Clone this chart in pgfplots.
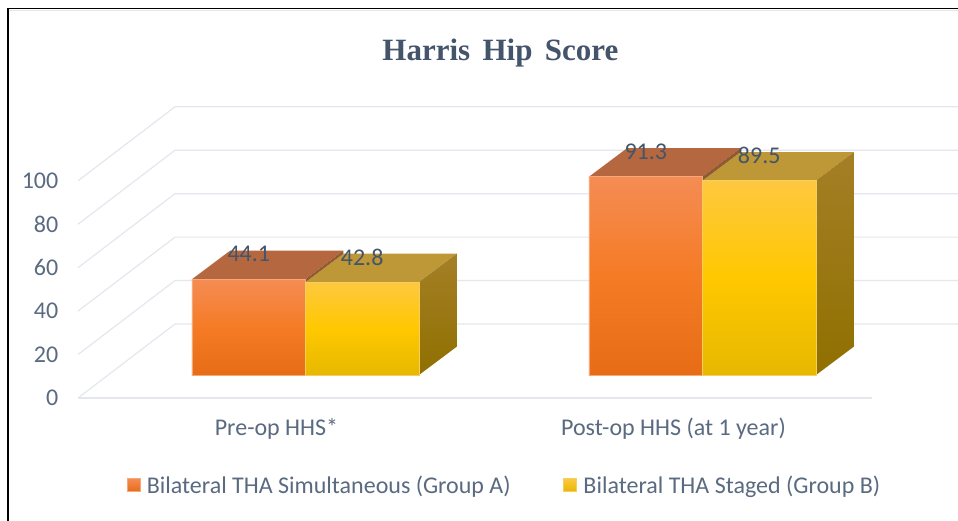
\documentclass[border=0pt]{standalone}
\usepackage{fontspec}
\setmainfont{Carlito}
\newfontfamily\titlefont{Liberation Serif}[WordSpace=1.6]
\usepackage{pgfplots}
\pgfplotsset{compat=1.18}
\definecolor{gridc}{HTML}{E4E7EE}
\definecolor{txt}{HTML}{5A6A80}
\definecolor{lab}{HTML}{44546A}
\definecolor{topA}{HTML}{B5683F}
\definecolor{topB}{HTML}{BE9736}
\definecolor{sliver}{HTML}{8F5A30}
\definecolor{sideT}{HTML}{A57F26}
\definecolor{sideB}{HTML}{8F7000}
\definecolor{aEdge}{HTML}{F6A878}
\definecolor{aT}{HTML}{F58C54}
\definecolor{aM}{HTML}{F57B25}
\definecolor{aB}{HTML}{E66C16}
\definecolor{bEdge}{HTML}{F6CE5E}
\definecolor{bT}{HTML}{FEC840}
\definecolor{bM}{HTML}{FFC800}
\definecolor{bB}{HTML}{E6B800}
\pgfplotsset{
  gridline/.style={gridc, line width=1.2pt, forget plot},
  face/.style={draw=none, forget plot},
  barlabels/.style={
    nodes near coords={\pgfmathprintnumber[fixed,precision=1,assume math mode=true]{\pgfplotspointmeta}},
    nodes near coords style={anchor=center, xshift=#1, yshift=25pt, text=lab, font=\fontsize{24}{26}\selectfont},
  },
  barA/.style={ybar, bar width=0.2859, bar shift=-0.14295, draw=aEdge, line width=0.5pt,
    top color=aT, bottom color=aB, middle color=aM, barlabels=-56.7pt,
    legend image code/.code={\shade[top color=aT, bottom color=aB] (0pt,-6.5pt) rectangle (13pt,6.5pt);}},
  barB/.style={ybar, bar width=0.2859, bar shift=0.14295, draw=bEdge, line width=0.5pt,
    top color=bT, bottom color=bB, middle color=bM, barlabels=56.7pt,
    legend image code/.code={\shade[top color=bT, bottom color=bB] (0pt,-6.5pt) rectangle (13pt,6.5pt);}},
}
\begin{document}
\begin{tikzpicture}
\path[use as bounding box, fill=white] (0pt,0pt) rectangle (958pt,-521pt);
\begin{axis}[
  at={(78pt,-398pt)}, anchor=south west,
  scale only axis,
  width=880pt, height=292pt,
  xmin=-0.5730, xmax=1.6436,
  ymin=-10.59, ymax=123.85,
  clip=false,
  axis line style={draw=none},
  tick style={draw=none},
  major tick length=0pt,
  xtick={0,1},
  xticklabels={Pre-op HHS*,Post-op HHS (at 1 year)},
  ytick={-10.59,9.41,29.41,49.41,69.41,89.41},
  yticklabels={0,20,40,60,80,100},
  tick label style={font=\fontsize{24}{26}\selectfont, text=txt},
  xticklabel style={anchor=center, xshift=-29pt, yshift=-31pt},
  yticklabel style={anchor=east, inner sep=0pt, xshift=-19.5pt},
  title={Harris Hip Score},
  title style={at={(0.48,1.161)}, anchor=center, font=\titlefont\bfseries\fontsize{31}{33}\selectfont, text=lab},
  legend style={at={(0.0553,-0.298)}, anchor=west, draw=none, fill=none, inner sep=0pt,
    legend columns=2, font=\fontsize{24}{26}\selectfont, text=txt,
    /tikz/column 1/.style={column sep=4.5pt},
    /tikz/column 2/.style={column sep=50.7pt},
    /tikz/column 3/.style={column sep=4.5pt}},
  legend cell align=left,
]
% floor and wall lines
\addplot[gridline] coordinates {(-0.5730,-10.59)(1.4270,-10.59)};
\addplot[gridline] coordinates {(-0.5730,-10.59)(-0.3287,23.48)(1.6436,23.48)};
\addplot[gridline] coordinates {(-0.5730,9.41)(-0.3287,43.48)(1.6436,43.48)};
\addplot[gridline] coordinates {(-0.5730,29.41)(-0.3287,63.48)(1.6436,63.48)};
\addplot[gridline] coordinates {(-0.5730,49.41)(-0.3287,83.48)(1.6436,83.48)};
\addplot[gridline] coordinates {(-0.5730,69.41)(-0.3287,103.48)(1.6436,103.48)};
\addplot[gridline] coordinates {(-0.5730,89.41)(-0.3287,123.48)(1.6436,123.48)};
% top faces
\addplot[face, fill=topA] coordinates {(-0.2859,44.1)(0,44.1)(0.0957,57.22)(-0.1902,57.22)} --cycle;
\addplot[face, fill=topB] coordinates {(0,42.8)(0.2859,42.8)(0.3816,55.92)(0.0957,55.92)} --cycle;
\addplot[face, fill=sliver] coordinates {(0,42.8)(0,44.1)(0.0957,57.22)(0.0957,55.92)} --cycle;
\addplot[face, fill=topA] coordinates {(0.7141,91.3)(1,91.3)(1.0957,104.42)(0.8098,104.42)} --cycle;
\addplot[face, fill=topB] coordinates {(1,89.5)(1.2859,89.5)(1.3816,102.62)(1.0957,102.62)} --cycle;
\addplot[face, fill=sliver] coordinates {(1,89.5)(1,91.3)(1.0957,104.42)(1.0957,102.62)} --cycle;
% side faces
\addplot[face, top color=sideT, bottom color=sideB] coordinates {(0.2859,0)(0.3816,13.12)(0.3816,55.92)(0.2859,42.8)} --cycle;
\addplot[face, top color=sideT, bottom color=sideB] coordinates {(1.2859,0)(1.3816,13.12)(1.3816,102.62)(1.2859,89.5)} --cycle;
% front faces, one plot per bar so each has its own gradient
\addplot[barA] coordinates {(0,44.1)};
\addlegendentry{Bilateral THA Simultaneous (Group A)}
\addplot[barA, forget plot] coordinates {(1,91.3)};
\addplot[barB] coordinates {(0,42.8)};
\addlegendentry{Bilateral THA Staged (Group B)}
\addplot[barB, forget plot] coordinates {(1,89.5)};
\end{axis}
% picture frame left by the source screenshot
\draw[black, line width=1.2pt] (8pt,-521pt) -- (8pt,-8.5pt) -- (958pt,-8.5pt);
\draw[gridc, line width=1.5pt] (8.6pt,-10.6pt) -- (958pt,-10.6pt);
\end{tikzpicture}
\end{document}
